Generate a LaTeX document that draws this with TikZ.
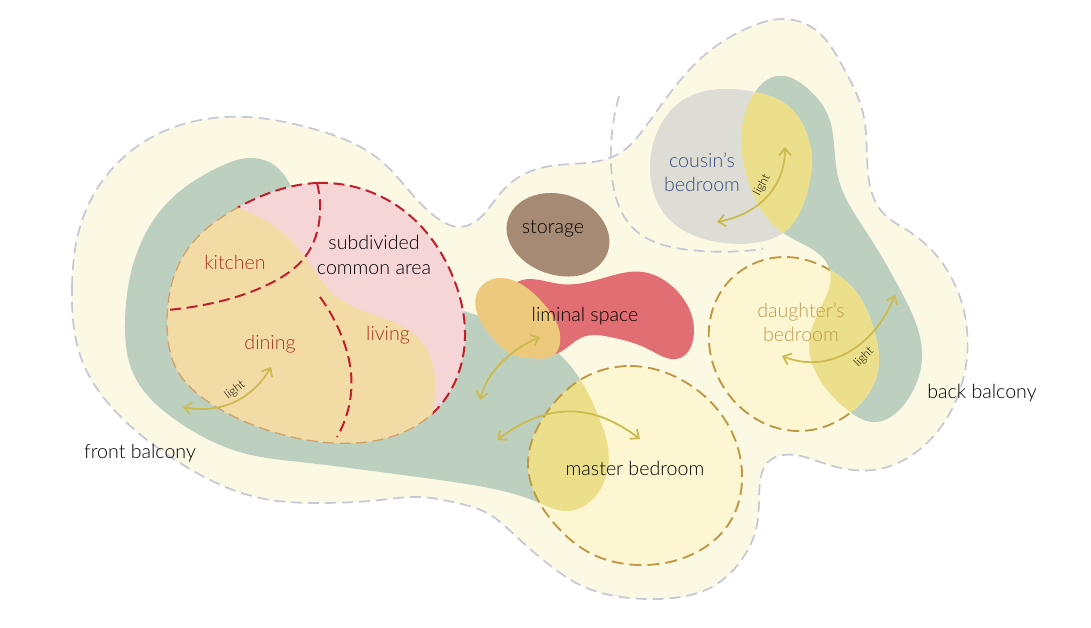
\documentclass[tikz,border=0pt]{standalone}
\usepackage{fontspec}
\setmainfont{Lato}[UprightFont=* Light]
\usetikzlibrary{arrows.meta,hobby}
\definecolor{creamc}{HTML}{FBF8E3}
\definecolor{greenc}{HTML}{BDD0BF}
\definecolor{roomc}{HTML}{FDF6D2}
\definecolor{overc}{HTML}{EBDF8C}
\definecolor{greyc}{HTML}{DEDDD5}
\definecolor{pinkc}{HTML}{F6D5D7}
\definecolor{orangec}{HTML}{F3DBA5}
\definecolor{limc}{HTML}{E06E72}
\definecolor{lensc}{HTML}{ECC97D}
\definecolor{storc}{HTML}{A68A73}
\definecolor{dashg}{HTML}{C6C8D4}
\definecolor{goldd}{HTML}{BF9A45}
\definecolor{tand}{HTML}{D0A268}
\definecolor{redd}{HTML}{C0202C}
\definecolor{arrowc}{HTML}{CDBB4F}
\definecolor{redt}{HTML}{A8341F}
\definecolor{bluet}{HTML}{3A4C80}
\definecolor{goldt}{HTML}{BE9A50}
\tikzset{
  greydash/.style={draw=dashg,line width=1.7pt,dash pattern=on 11pt off 6pt},
  golddash/.style={draw=goldd,line width=1.9pt,dash pattern=on 12pt off 6pt},
  reddash/.style={draw=redd,line width=2pt,dash pattern=on 11pt off 5.5pt},
  tandash/.style={draw=tand,line width=1.3pt,dash pattern=on 11pt off 5.5pt},
  lightarrow/.style={draw=arrowc,line width=1.8pt,{Straight Barb[length=7pt,width=12pt]}-{Straight Barb[length=7pt,width=12pt]}},
  lab/.style={font=\fontsize{19.6}{24.5}\selectfont,align=center,inner sep=0pt},
  redlab/.style={lab,text=redt},
  lightlab/.style={font=\fontsize{12}{14}\selectfont,inner sep=0pt,text=black},
}
\def\outerp{plot[closed hobby] coordinates {(72,287)(80,227)(103,180)(160,133)(247,117)(310,128)(380,160)(440,220)(460,227)(480,218)(505,188)(545,167)(603,160)(620,153)(643,130)(667,97)(707,53)(750,27)(783,19)(813,28)(843,67)(863,113)(868,173)(883,213)(910,232)(947,270)(967,330)(960,390)(930,440)(873,470)(823,463)(783,455)(767,463)(760,482)(757,525)(740,562)(710,588)(673,598)(630,598)(580,585)(547,563)(520,540)(487,513)(453,502)(420,497)(380,500)(323,503)(260,498)(180,463)(117,413)(83,363)}}
\def\greenL{plot[closed hobby] coordinates {(253,158)(280,170)(291,186)(360,260)(467,312)(558,353)(600,420)(608,447)(600,490)(567,511)(537,502)(460,483)(380,472)(300,462)(243,453)(180,423)(133,373)(125,323)(138,250)(170,200)(217,168)}}
\def\greenR{plot[closed hobby] coordinates {(777,76)(807,88)(827,113)(838,177)(867,233)(903,295)(922,357)(906,402)(873,422)(850,412)(820,380)(809,343)(823,303)(830,271)(783,233)(747,177)(742,127)(755,92)}}
\def\cousinp{plot[closed hobby] coordinates {(730,89)(683,100)(658,130)(650,170)(667,217)(717,242)(760,242)(783,233)(807,193)(812,160)(808,137)(787,105)(755,92)}}
\def\daughterp{plot[closed hobby] coordinates {(787,257)(830,270)(857,293)(873,327)(878,370)(850,413)(800,431)(740,407)(709,343)(722,290)}}
\def\masterp{plot[closed hobby] coordinates {(630,366)(693,387)(727,423)(742,473)(728,525)(695,553)(640,565)(590,553)(553,522)(528,463)(545,415)(580,380)}}
\def\commonp{plot[closed hobby] coordinates {(317,183)(403,210)(453,277)(465,337)(433,413)(333,443)(267,430)(210,403)(177,370)(167,325)(187,250)(237,208)}}
\def\orangep{plot[hobby] coordinates {(215,195)(237,207)(270,223)(307,260)(337,297)(380,317)(420,340)(435,380)(432,417)(420,470)} -- (100,470) -- (100,195) -- cycle}
\begin{document}
\begin{tikzpicture}[x=1pt,y=-1pt]
\useasboundingbox (0,0) rectangle (1091,627);
\fill[white] (0,0) rectangle (1091,627);
% balcony
\fill[creamc] \outerp;
\draw[greydash] \outerp;
% green light bands
\fill[greenc] \greenL;
\fill[greenc] \greenR;
% cousin
\fill[greyc] \cousinp;
\begin{scope}\clip \cousinp; \fill[overc] \greenR; \end{scope}
\draw[greydash] plot[hobby] coordinates {(619,96)(611,147)(612,177)(633,228)(690,250)(763,249)};
% daughter
\fill[roomc] \daughterp;
\begin{scope}\clip \daughterp; \fill[overc] \greenR; \end{scope}
\begin{scope}[even odd rule]\clip (0,0) rectangle (1091,627) \greenR; \draw[golddash] \daughterp; \end{scope}
% master
\fill[roomc] \masterp;
\begin{scope}\clip \masterp; \fill[overc] \greenL; \end{scope}
\draw[golddash] \masterp;
% common area
\fill[pinkc] \commonp;
\begin{scope}\clip \commonp; \fill[orangec] \orangep; \end{scope}
\begin{scope}[even odd rule]\clip (0,0) rectangle (1091,627) \orangep; \draw[reddash] \commonp; \end{scope}
\begin{scope}\clip \orangep; \draw[tandash] \commonp; \end{scope}
\draw[reddash] plot[hobby] coordinates {(317,183)(320,213)(305,257)(273,282)(213,303)(167,310)};
\draw[reddash] plot[hobby] coordinates {(320,297)(342,337)(351,373)(337,437)};
% storage
\fill[storc] plot[closed hobby] coordinates {(550,193)(507,223)(523,260)(560,276)(593,270)(609,247)(597,213)};
% liminal
\fill[limc] plot[closed hobby] coordinates {(517,282)(560,284)(607,277)(643,272)(673,287)(693,340)(680,358)(650,350)(610,337)(583,337)(558,353)(520,345)};
\fill[lensc] plot[closed hobby] coordinates {(477,293)(493,279)(517,282)(543,303)(560,343)(555,354)(530,358)(513,355)(497,343)(480,320)};
% arrows
\coordinate (a1) at (183,407); \coordinate (a2) at (271,367);
\coordinate (b1) at (480,400); \coordinate (b2) at (540,337);
\coordinate (c1) at (497,440); \coordinate (c2) at (640,439);
\coordinate (d1) at (717,222); \coordinate (d2) at (785,147);
\coordinate (e1) at (782,356); \coordinate (e2) at (895,295);
\draw[lightarrow] (a1) .. controls (225,415) and (255,395) .. (a2);
\draw[lightarrow] (b1) .. controls (487,372) and (510,350) .. (b2);
\draw[lightarrow] (c1) .. controls (550,400) and (595,405) .. (c2);
\draw[lightarrow] (d1) .. controls (755,215) and (785,190) .. (d2);
\draw[lightarrow] (e1) .. controls (830,375) and (875,345) .. (e2);
% labels
\node[lightlab,rotate=38] (l1) at (235,390) {light};
\node[lightlab,rotate=62] (l2) at (762,185) {light};
\node[lightlab,rotate=45] (l3) at (864,357) {light};
\node[redlab] (kitchen) at (235,262) {kitchen};
\node[redlab] (dining) at (270,344) {dining};
\node[redlab] (living) at (388,335) {living};
\node[lab] (common) at (374,255) {subdivided\\common area};
\node[lab] (storage) at (553,229) {storage};
\node[lab] (liminal) at (585,316) {liminal space};
\node[lab] (master) at (635,468) {master bedroom};
\node[lab,text=bluet] (cousin) at (702,172) {cousin's\\bedroom};
\node[lab,text=goldt] (daughter) at (801,322) {daughter's\\bedroom};
\node[lab] (front) at (140,453) {front balcony};
\node[lab] (back) at (982,393) {back balcony};
\end{tikzpicture}
\end{document}
